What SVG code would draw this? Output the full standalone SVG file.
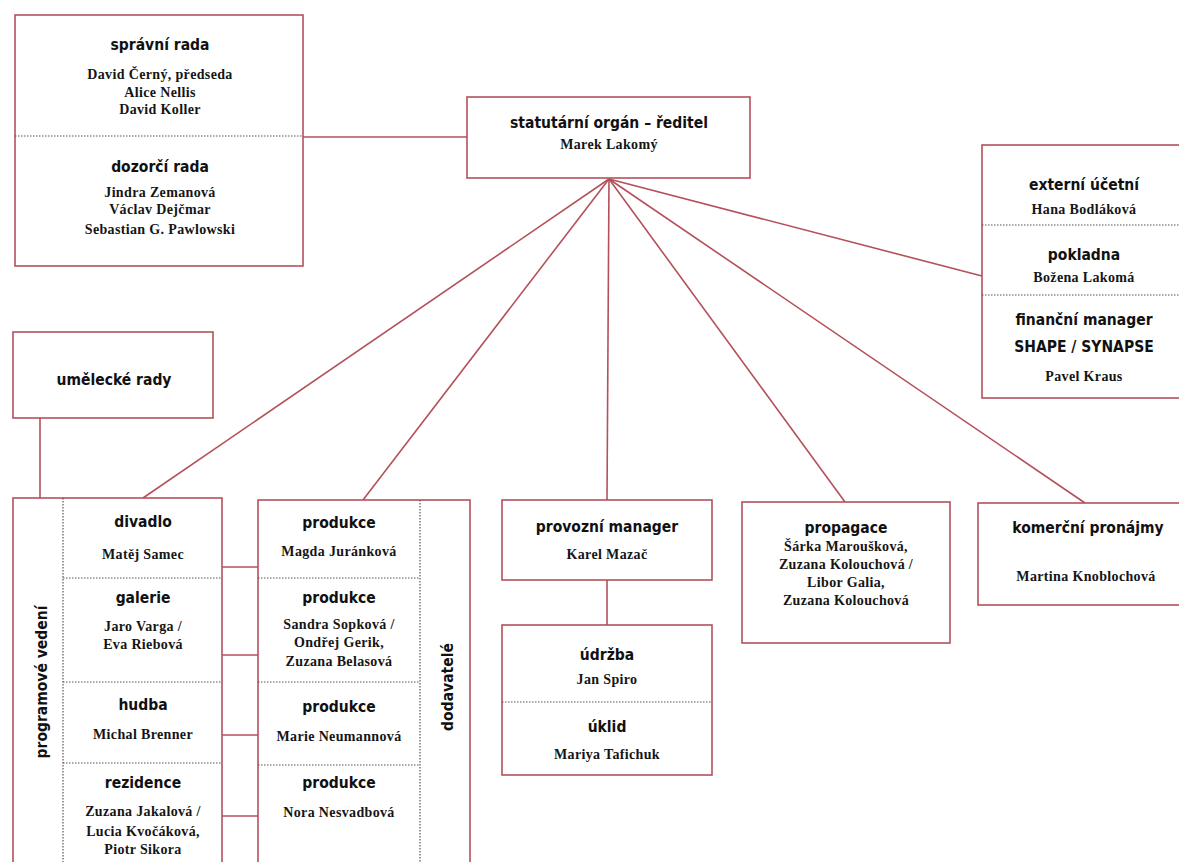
<svg xmlns="http://www.w3.org/2000/svg" width="1179" height="862" viewBox="0 0 1179 862">
<style>
.bx{fill:#fff;stroke:#b4505a;stroke-width:1.6}
.ln{fill:none;stroke:#b4505a;stroke-width:1.6}
.dv{fill:none;stroke:#555;stroke-width:1.2;stroke-dasharray:1.5 1.5}
.t{font-family:"DejaVu Sans Condensed","DejaVu Sans",sans-serif;font-stretch:condensed;font-weight:bold;font-size:15.5px;text-anchor:middle;fill:#111}
.n{font-family:"Liberation Serif",serif;font-weight:bold;font-size:14px;letter-spacing:0.35px;text-anchor:middle;fill:#151515}
</style>
<rect width="1179" height="862" fill="#fff"/>
<g id="connectors">
<line class="ln" x1="303" y1="137" x2="467" y2="137"/>
<line class="ln" x1="609" y1="179" x2="143" y2="498"/>
<line class="ln" x1="609" y1="179" x2="363" y2="500"/>
<line class="ln" x1="609" y1="179" x2="607" y2="500"/>
<line class="ln" x1="609" y1="179" x2="845" y2="502"/>
<line class="ln" x1="609" y1="179" x2="1085" y2="503"/>
<line class="ln" x1="609" y1="179" x2="982" y2="276"/>
<line class="ln" x1="40" y1="418" x2="40" y2="498"/>
<line class="ln" x1="607" y1="580" x2="607" y2="625"/>
<line class="ln" x1="222" y1="567" x2="258" y2="567"/>
<line class="ln" x1="222" y1="655" x2="258" y2="655"/>
<line class="ln" x1="222" y1="735" x2="258" y2="735"/>
<line class="ln" x1="222" y1="816" x2="258" y2="816"/>
</g>
<g id="rady">
<rect class="bx" x="15" y="15" width="288" height="251"/>
<line class="dv" x1="15" y1="136" x2="303" y2="136"/>
<text class="t" x="160" y="50">správní rada</text>
<text class="n" x="160" y="79">David Černý, předseda</text>
<text class="n" x="160" y="97">Alice Nellis</text>
<text class="n" x="160" y="114">David Koller</text>
<text class="t" x="160" y="172">dozorčí rada</text>
<text class="n" x="160" y="197">Jindra Zemanová</text>
<text class="n" x="160" y="214">Václav Dejčmar</text>
<text class="n" x="160" y="234">Sebastian G. Pawlowski</text>
</g>
<g id="reditel">
<rect class="bx" x="467" y="97" width="283" height="81"/>
<text class="t" x="609" y="128">statutární orgán – ředitel</text>
<text class="n" x="609" y="149">Marek Lakomý</text>
</g>
<g id="finance">
<rect class="bx" x="982" y="145" width="210" height="253"/>
<line class="dv" x1="982" y1="225" x2="1179" y2="225"/>
<line class="dv" x1="982" y1="295" x2="1179" y2="295"/>
<text class="t" x="1084" y="190">externí účetní</text>
<text class="n" x="1084" y="214">Hana Bodláková</text>
<text class="t" x="1084" y="260">pokladna</text>
<text class="n" x="1084" y="282">Božena Lakomá</text>
<text class="t" x="1084" y="325">finanční manager</text>
<text class="t" x="1084" y="352">SHAPE / SYNAPSE</text>
<text class="n" x="1084" y="381">Pavel Kraus</text>
</g>
<g id="umelecke">
<rect class="bx" x="13" y="332" width="200" height="86"/>
<text class="t" x="114" y="385">umělecké rady</text>
</g>
<g id="programove">
<rect class="bx" x="13" y="498" width="209" height="380"/>
<line class="dv" x1="63" y1="498" x2="63" y2="862"/>
<line class="dv" x1="63" y1="578" x2="222" y2="578"/>
<line class="dv" x1="63" y1="682" x2="222" y2="682"/>
<line class="dv" x1="63" y1="763" x2="222" y2="763"/>
<text class="t" transform="translate(47 682) rotate(-90)">programové vedení</text>
<text class="t" x="143" y="527">divadlo</text>
<text class="n" x="143" y="559">Matěj Samec</text>
<text class="t" x="143" y="603">galerie</text>
<text class="n" x="143" y="631">Jaro Varga /</text>
<text class="n" x="143" y="649">Eva Riebová</text>
<text class="t" x="143" y="710">hudba</text>
<text class="n" x="143" y="739">Michal Brenner</text>
<text class="t" x="143" y="788">rezidence</text>
<text class="n" x="143" y="816">Zuzana Jakalová /</text>
<text class="n" x="143" y="836">Lucia Kvočáková,</text>
<text class="n" x="143" y="854">Piotr Sikora</text>
</g>
<g id="produkce">
<rect class="bx" x="258" y="500" width="212" height="378"/>
<line class="dv" x1="420" y1="500" x2="420" y2="862"/>
<line class="dv" x1="258" y1="578" x2="420" y2="578"/>
<line class="dv" x1="258" y1="682" x2="420" y2="682"/>
<line class="dv" x1="258" y1="765" x2="420" y2="765"/>
<text class="t" transform="translate(453 687) rotate(-90)">dodavatelé</text>
<text class="t" x="339" y="528">produkce</text>
<text class="n" x="339" y="556">Magda Juránková</text>
<text class="t" x="339" y="603">produkce</text>
<text class="n" x="339" y="629">Sandra Sopková /</text>
<text class="n" x="339" y="647">Ondřej Gerik,</text>
<text class="n" x="339" y="666">Zuzana Belasová</text>
<text class="t" x="339" y="712">produkce</text>
<text class="n" x="339" y="741">Marie Neumannová</text>
<text class="t" x="339" y="788">produkce</text>
<text class="n" x="339" y="817">Nora Nesvadbová</text>
</g>
<g id="provozni">
<rect class="bx" x="502" y="500" width="210" height="80"/>
<text class="t" x="607" y="532">provozní manager</text>
<text class="n" x="607" y="559">Karel Mazač</text>
</g>
<g id="udrzba">
<rect class="bx" x="502" y="625" width="210" height="150"/>
<line class="dv" x1="502" y1="702" x2="712" y2="702"/>
<text class="t" x="607" y="660">údržba</text>
<text class="n" x="607" y="684">Jan Spiro</text>
<text class="t" x="607" y="732">úklid</text>
<text class="n" x="607" y="759">Mariya Tafichuk</text>
</g>
<g id="propagace">
<rect class="bx" x="742" y="502" width="208" height="141"/>
<text class="t" x="846" y="533">propagace</text>
<text class="n" x="846" y="551">Šárka Maroušková,</text>
<text class="n" x="846" y="569">Zuzana Kolouchová /</text>
<text class="n" x="846" y="587">Libor Galia,</text>
<text class="n" x="846" y="605">Zuzana Kolouchová</text>
</g>
<g id="komercni">
<rect class="bx" x="978" y="503" width="214" height="102"/>
<text class="t" x="1088" y="533">komerční pronájmy</text>
<text class="n" x="1086" y="581">Martina Knoblochová</text>
</g>
</svg>
